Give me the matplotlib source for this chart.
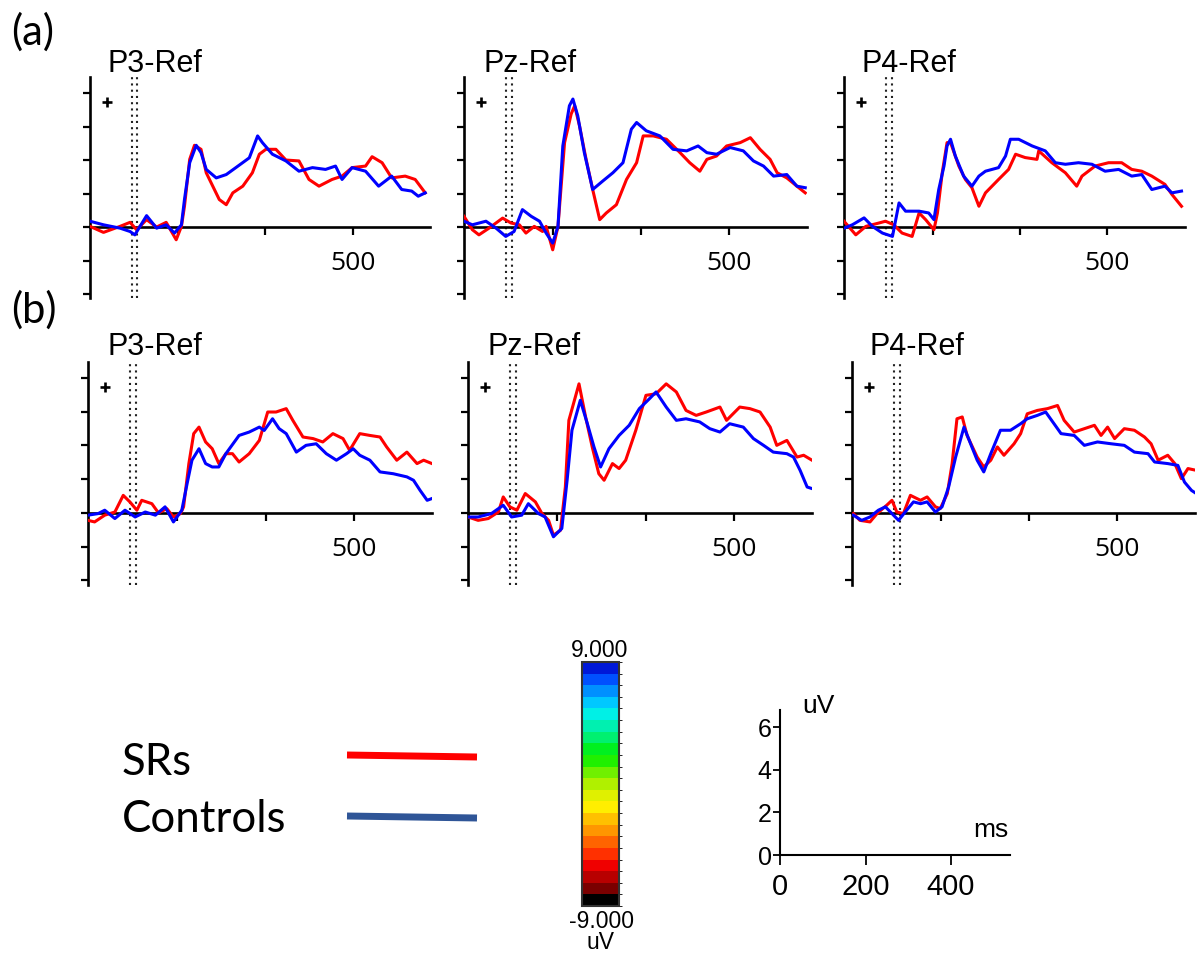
import matplotlib
matplotlib.use("Agg")
import matplotlib.pyplot as plt
from matplotlib.lines import Line2D
from matplotlib.colors import ListedColormap, BoundaryNorm
from matplotlib.cm import ScalarMappable
import numpy as np

W, H = 1200, 955

# ---------------------------------------------------------------- data
# Grand-average ERPs (time in ms relative to stimulus onset, amplitude in uV)
electrodes = ["P3-Ref", "Pz-Ref", "P4-Ref"]
groups = ["SRs", "Controls"]
group_colors = ["#ff0000", "#0000ff"]
legend_colors = ["#ff0000", "#2f5597"]

# (a) P3
a_p3_sr_t = [-103, -72, -34, -11, 4, 27, 50, 72, 95, 107, 114, 126, 137, 152, 164, 179, 194, 210, 225,
             248, 270, 286, 301, 324, 347, 377, 400, 423, 453, 476, 499, 530, 545, 568, 590, 621, 644, 667]
a_p3_sr_v = [0.03, -0.24, 0.03, 0.21, -0.12, 0.33, 0.0, 0.21, -0.57, 0.03, 0.93, 3.03, 3.66, 3.48, 2.43,
             1.83, 1.23, 1.0, 1.53, 1.83, 2.43, 3.26, 3.48, 3.48, 3.0, 2.96, 2.13, 1.83, 2.13, 2.28, 2.66,
             2.73, 3.15, 2.88, 2.2, 2.28, 2.13, 1.53]
a_p3_ct_t = [-103, -72, -34, -11, 0, 27, 50, 72, 91, 107, 114, 126, 141, 152, 164, 187, 210, 232, 263,
             282, 293, 316, 347, 377, 408, 438, 461, 476, 499, 530, 560, 590, 613, 636, 651, 667]
a_p3_ct_v = [0.26, 0.1, -0.05, -0.2, -0.35, 0.51, -0.05, 0.1, -0.27, 0.1, 1.23, 2.88, 3.66, 3.33, 2.58,
             2.2, 2.35, 2.66, 3.1, 4.08, 3.78, 3.26, 2.96, 2.5, 2.66, 2.58, 2.73, 2.13, 2.66, 2.5, 1.83,
             2.28, 1.68, 1.61, 1.38, 1.53]

# (a) Pz
a_pz_sr_t = [-103, -84, -69, -46, -15, 4, 23, 38, 57, 76, 84, 99, 111, 126, 141, 149, 160, 175, 190, 206,
             221, 244, 267, 290, 305, 328, 358, 389, 411, 434, 450, 472, 495, 526, 549, 571, 594, 610, 632,
             655, 674]
a_pz_sr_v = [0.48, -0.12, -0.35, -0.05, 0.4, 0.18, 0.1, -0.27, 0.03, -0.2, 0.03, -1.02, 0.03, 3.78, 5.06,
             5.43, 4.53, 3.03, 1.68, 0.33, 0.63, 1.0, 2.13, 2.88, 4.08, 4.08, 3.93, 3.33, 2.88, 2.5, 3.03,
             3.18, 3.63, 3.78, 4.0, 3.48, 3.03, 2.43, 2.2, 1.83, 1.53]
a_pz_ct_t = [-103, -84, -53, -30, -8, 11, 30, 50, 69, 84, 99, 111, 122, 137, 145, 156, 171, 190, 213, 236,
             259, 278, 290, 312, 343, 373, 404, 430, 450, 472, 503, 533, 556, 579, 602, 632, 655, 674]
a_pz_ct_v = [0.26, 0.1, 0.26, -0.05, -0.42, -0.2, 0.78, 0.48, 0.26, -0.27, -0.72, 0.03, 3.63, 5.43, 5.73,
             4.98, 3.33, 1.68, 2.06, 2.43, 2.88, 4.38, 4.68, 4.31, 4.08, 3.48, 3.41, 3.63, 3.33, 3.26, 3.56,
             3.41, 2.96, 2.73, 2.28, 2.35, 1.83, 1.76]

# (a) P4
a_p4_sr_t = [-103, -76, -53, -23, -8, 11, 30, 53, 69, 84, 103, 111, 122, 133, 141, 160, 175, 190, 206,
             221, 251, 274, 290, 312, 339, 343, 373, 404, 430, 442, 472, 503, 533, 556, 579, 602, 632, 648, 670]
a_p4_sr_v = [0.26, -0.35, 0.03, 0.18, 0.26, 0.1, -0.27, -0.42, 0.63, 0.33, -0.12, 0.63, 2.43, 3.78, 3.78,
             2.73, 2.13, 1.76, 0.93, 1.53, 2.13, 2.58, 3.26, 3.11, 3.03, 3.41, 2.88, 2.43, 1.83, 2.28, 2.73,
             2.88, 2.88, 2.58, 2.5, 2.28, 1.91, 1.46, 0.93]
a_p4_ct_t = [-103, -84, -57, -38, -15, 8, 23, 38, 69, 91, 103, 114, 126, 133, 141, 152, 171, 190, 206, 221,
             251, 267, 278, 297, 328, 358, 381, 404, 434, 465, 495, 526, 556, 579, 602, 632, 648, 670]
a_p4_ct_v = [-0.05, 0.1, 0.41, 0.03, -0.27, -0.42, 1.08, 0.71, 0.71, 0.63, 0.33, 1.68, 2.73, 3.63, 3.93,
             3.18, 2.28, 1.83, 2.28, 2.5, 2.66, 3.18, 3.93, 3.93, 3.63, 3.41, 2.88, 2.81, 2.88, 2.81, 2.5,
             2.58, 2.28, 2.35, 1.68, 1.83, 1.53, 1.61]

# (b) P3
b_p3_sr_t = [-103, -88, -65, -42, -23, -8, 8, 19, 42, 57, 76, 91, 107, 114, 126, 137, 149, 164, 179, 194,
             210, 225, 240, 263, 286, 305, 324, 347, 362, 385, 408, 430, 453, 476, 491, 514, 537, 560, 575,
             598, 621, 644, 659, 678]
b_p3_sr_v = [-0.33, -0.4, -0.1, 0.04, 0.78, 0.49, 0.12, 0.56, 0.41, 0.0, 0.19, -0.18, -0.03, 0.27, 2.19,
             3.52, 3.81, 3.15, 2.85, 2.19, 2.63, 2.63, 2.26, 2.63, 3.22, 4.48, 4.48, 4.63, 4.11, 3.37, 3.3,
             3.15, 3.52, 3.3, 2.78, 3.52, 3.44, 3.37, 2.93, 2.34, 2.7, 2.19, 2.34, 2.19]
b_p3_ct_t = [-103, -80, -65, -42, -19, 4, 27, 50, 72, 91, 110, 122, 133, 149, 164, 179, 194, 210, 240, 263,
             286, 297, 316, 331, 347, 370, 392, 415, 438, 461, 484, 499, 514, 537, 560, 590, 621, 636, 651,
             667, 678]
b_p3_ct_v = [-0.1, -0.03, 0.12, -0.25, 0.12, -0.18, 0.04, -0.1, 0.27, -0.4, 0.12, 1.3, 2.34, 2.85, 2.19,
             2.04, 2.04, 2.63, 3.44, 3.59, 3.81, 3.66, 4.18, 3.74, 3.52, 2.7, 3.0, 3.07, 2.63, 2.34, 2.63,
             2.85, 2.56, 2.34, 1.82, 1.74, 1.6, 1.45, 1.0, 0.56, 0.64]

# (b) Pz
b_pz_sr_t = [-103, -80, -57, -34, -23, -8, 8, 27, 50, 65, 80, 91, 107, 118, 126, 149, 164, 179, 194, 206,
             225, 240, 255, 278, 301, 324, 347, 370, 392, 415, 438, 469, 484, 514, 537, 560, 583, 598, 621,
             644, 659, 678]
b_pz_sr_v = [-0.18, -0.33, -0.25, 0.04, 0.71, 0.27, 0.12, 0.86, 0.49, -0.03, -0.33, -0.99, -0.77, 1.15,
             4.11, 5.73, 4.26, 2.93, 1.74, 1.45, 2.19, 1.97, 2.34, 3.67, 5.22, 5.29, 5.73, 5.37, 4.55, 4.33,
             4.48, 4.7, 4.11, 4.7, 4.63, 4.48, 3.81, 3.0, 3.22, 2.48, 2.56, 2.34]
b_pz_ct_t = [-103, -80, -50, -23, -4, 19, 34, 57, 72, 91, 110, 122, 133, 152, 168, 183, 198, 217, 240, 263,
             286, 309, 324, 347, 370, 392, 423, 446, 469, 491, 522, 545, 568, 590, 621, 636, 651, 667, 678]
b_pz_ct_v = [-0.18, -0.18, -0.03, 0.34, -0.18, -0.1, 0.41, -0.03, -0.18, -1.06, -0.69, 1.45, 3.67, 5.0,
             3.96, 2.93, 2.04, 2.85, 3.44, 3.89, 4.63, 5.07, 5.37, 4.7, 4.11, 4.18, 4.04, 3.74, 3.59, 3.96,
             3.81, 3.3, 3.0, 2.7, 2.63, 2.48, 1.89, 1.15, 1.08]

# (b) P4
b_p4_sr_t = [-100, -85, -62, -46, -24, -12, -1, 14, 30, 53, 68, 87, 98, 114, 125, 136, 148, 159, 182, 197,
             213, 228, 243, 266, 281, 296, 319, 342, 365, 380, 403, 426, 449, 464, 479, 495, 517, 540, 563,
             578, 594, 616, 632, 647, 662, 681]
b_p4_sr_v = [-0.03, -0.33, -0.4, -0.03, 0.34, 0.56, 0.04, -0.03, 0.78, 0.56, 0.71, 0.27, 0.19, 0.86, 2.19,
             4.18, 4.26, 3.44, 2.48, 2.04, 2.34, 2.93, 2.56, 3.07, 3.52, 4.4, 4.55, 4.63, 4.77, 4.11, 3.59,
             3.74, 3.89, 3.44, 3.81, 3.3, 3.74, 3.67, 3.37, 3.07, 2.34, 2.56, 2.19, 1.52, 1.97, 1.89]
b_p4_ct_t = [-100, -81, -62, -43, -27, -12, 3, 18, 37, 53, 68, 87, 102, 117, 133, 152, 167, 182, 197, 213,
             235, 258, 281, 296, 319, 338, 357, 373, 403, 426, 456, 487, 517, 540, 571, 586, 616, 639, 654,
             670, 681]
b_p4_ct_v = [-0.1, -0.33, -0.18, 0.12, 0.27, -0.03, -0.33, 0.04, 0.49, 0.41, 0.49, 0.04, 0.27, 1.15, 2.48,
             3.81, 3.07, 2.34, 1.82, 2.63, 3.67, 3.67, 3.96, 4.18, 4.33, 4.48, 3.96, 3.52, 3.44, 3.0, 3.15,
             3.07, 3.0, 2.7, 2.63, 2.26, 2.19, 2.11, 1.37, 1.0, 0.86]

# axis conventions of the ERP panels
time_ticks = [100, 300, 500]
time_tick_labels = ["", "", "500"]
amp_ticks = [-3.0, -1.5, 0.0, 1.5, 3.0, 4.5, 6.0]
onset_marks = [-7, 6]

# colour scale of the topographic maps, listed from -9 uV up to +9 uV
scale_min, scale_max = -9.0, 9.0
scale_colors = ["#000000", "#7a0000", "#b80000", "#f00000", "#ff3000", "#ff6400", "#ff9600",
                "#ffc000", "#ffee00", "#e0f000", "#b0f000", "#70f000", "#20f000", "#00f020",
                "#00f070", "#00f0b0", "#00f0e6", "#00c8ff", "#0090ff", "#0050ff", "#0018d8"]

# calibration bar
cal_time_ticks = [0, 200, 400]
cal_amp_ticks = [0, 2, 4, 6]

# ---------------------------------------------------------------- figure
fig = plt.figure(figsize=(W / 100, H / 100), dpi=100)


def frame(left, top, right, bottom):
    return [left / W, 1 - bottom / H, (right - left) / W, (bottom - top) / H]


def erp_panel(rect, title, title_xy, sr_t, sr_v, ct_t, ct_v):
    ax = fig.add_axes(rect)
    ax.set_xlim(-103, 678)
    ax.set_ylim(-3.2, 6.7)
    ax.patch.set_visible(False)
    ax.spines["top"].set_visible(False)
    ax.spines["right"].set_visible(False)
    ax.spines["bottom"].set_position(("data", 0))
    ax.spines["left"].set_linewidth(1.9)
    ax.spines["bottom"].set_linewidth(1.9)
    ax.set_yticks(amp_ticks)
    ax.set_yticklabels([])
    ax.tick_params(axis="y", direction="out", length=5, width=1.6)
    ax.set_xticks(time_ticks)
    ax.set_xticklabels(time_tick_labels, fontsize=19, fontfamily="Open Sans")
    ax.tick_params(axis="x", direction="out", length=6, width=1.6, pad=11)
    for xm in onset_marks:
        ax.axvline(xm, color="#222222", lw=1.5, ls=(0, (1, 2)), zorder=1)
    ax.plot(sr_t, sr_v, color=group_colors[0], lw=2.2, zorder=3)
    ax.plot(ct_t, ct_v, color=group_colors[1], lw=2.2, zorder=3)
    ax.plot([-64], [5.6], marker="+", ms=7.5, mew=1.9, color="black", zorder=3)
    fig.text(title_xy[0] / W, 1 - title_xy[1] / H, title, fontsize=22,
             fontfamily="Liberation Sans", va="baseline", ha="left")
    return ax


panels = [
    (frame(90, 77.4, 430, 298.5), electrodes[0], (108, 72), a_p3_sr_t, a_p3_sr_v, a_p3_ct_t, a_p3_ct_v),
    (frame(464, 77.4, 807, 298.5), electrodes[1], (483, 72), a_pz_sr_t, a_pz_sr_v, a_pz_ct_t, a_pz_ct_v),
    (frame(844, 77.4, 1185, 298.5), electrodes[2], (862, 72), a_p4_sr_t, a_p4_sr_v, a_p4_ct_t, a_p4_ct_v),
    (frame(88, 362, 432, 585), electrodes[0], (107, 355), b_p3_sr_t, b_p3_sr_v, b_p3_ct_t, b_p3_ct_v),
    (frame(468, 362, 812, 585), electrodes[1], (488, 355), b_pz_sr_t, b_pz_sr_v, b_pz_ct_t, b_pz_ct_v),
    (frame(852, 362, 1195, 585), electrodes[2], (870, 355), b_p4_sr_t, b_p4_sr_v, b_p4_ct_t, b_p4_ct_v),
]
for p in panels:
    erp_panel(*p)

# row labels
fig.text(11 / W, 1 - 45 / H, "(a)", fontsize=30, fontfamily="Lato", va="baseline")
fig.text(11 / W, 1 - 323 / H, "(b)", fontsize=30, fontfamily="Lato", va="baseline")

# group legend
for name, col, yb, (y0, y1) in zip(groups, legend_colors, [775, 832], [(755, 757), (816, 818)]):
    fig.text(122 / W, 1 - yb / H, name, fontsize=31.5, fontfamily="Lato", va="baseline")
    fig.add_artist(Line2D([347 / W, 477 / W], [1 - y0 / H, 1 - y1 / H], color=col, lw=5,
                          solid_capstyle="butt"))

# colour scale
cax = fig.add_axes(frame(582, 662, 619, 906))
cmap = ListedColormap(scale_colors)
bounds = np.linspace(scale_min, scale_max, len(scale_colors) + 1)
norm = BoundaryNorm(bounds, cmap.N)
cb = fig.colorbar(ScalarMappable(norm=norm, cmap=cmap), cax=cax, orientation="vertical")
cb.set_ticks([])
cb.outline.set_linewidth(1.5)
cb.outline.set_edgecolor("#333333")
fig.text(600 / W, 1 - 657 / H, f"{scale_max:.3f}", fontsize=16.5, fontfamily="Liberation Sans",
         ha="center", va="baseline")
fig.text(601 / W, 1 - 928 / H, f"{scale_min:.3f}", fontsize=16.5, fontfamily="Liberation Sans",
         ha="center", va="baseline")
fig.text(600 / W, 1 - 949 / H, "uV", fontsize=16.5, fontfamily="Liberation Sans",
         ha="center", va="baseline")

# calibration axes
sax = fig.add_axes(frame(780, 710, 1010, 855))
sax.set_xlim(0, 538)
sax.set_ylim(0, 6.8)
sax.patch.set_visible(False)
sax.spines["top"].set_visible(False)
sax.spines["right"].set_visible(False)
sax.spines["left"].set_linewidth(1.5)
sax.spines["bottom"].set_linewidth(1.5)
sax.set_yticks(cal_amp_ticks)
sax.set_yticklabels([str(v) for v in cal_amp_ticks], fontsize=18, fontfamily="Liberation Sans")
sax.set_xticks(cal_time_ticks)
sax.set_xticklabels([str(v) for v in cal_time_ticks], fontsize=21, fontfamily="Liberation Sans")
sax.tick_params(axis="y", direction="out", length=5, width=1.3, pad=1)
sax.tick_params(axis="x", direction="out", length=7, width=1.3, pad=6)
fig.text(802 / W, 1 - 713 / H, "uV", fontsize=19, fontfamily="Liberation Sans", va="baseline")
fig.text(973 / W, 1 - 837 / H, "ms", fontsize=19, fontfamily="Liberation Sans", va="baseline")

fig.savefig("out.png", dpi=100, facecolor="white")
